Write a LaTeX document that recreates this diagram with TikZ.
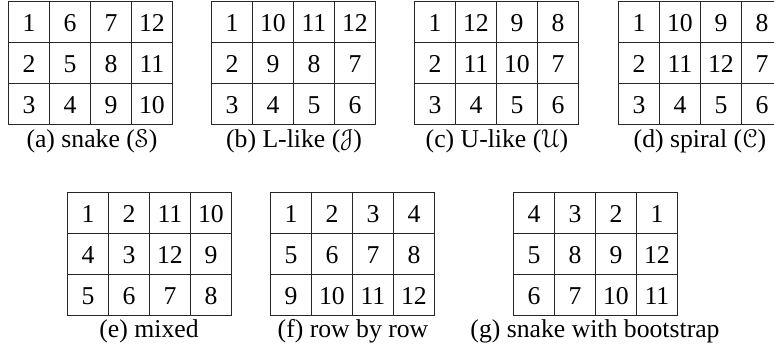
\RequirePackage{fix-cm}
\documentclass[tikz,border=0pt]{standalone}
\usepackage[mathcal]{eucal}
\usepackage{fontspec}
\setmainfont{Liberation Serif}
\tikzset{
  cell/.style={draw=black!85, line width=0.9bp, minimum width=41bp, minimum height=41bp, inner sep=0pt, anchor=north west},
  num/.style={inner sep=0pt, anchor=center},
  captext/.style={inner sep=0pt, anchor=base}
}
\newcommand\tgrid[4]{%
  \foreach \v [count=\i from 0] in {#4} {
    \pgfmathtruncatemacro\rr{div(\i,4)}
    \pgfmathtruncatemacro\cc{mod(\i,4)}
    \node[cell] (#1-\rr-\cc) at ({#2+41*\cc},{#3+41*\rr}) {};
    \node[num] (#1n-\rr-\cc) at ([yshift=-1.5bp]#1-\rr-\cc.center) {\v};
  }%
}
\begin{document}
\begin{tikzpicture}[x=1bp,y=-1bp]
\fontsize{25.8}{30}\selectfont
\useasboundingbox (0,0) rectangle (774,348);
\tgrid{a}{8}{1}{1,6,7,12,2,5,8,11,3,4,9,10}
\tgrid{b}{211}{1}{1,10,11,12,2,9,8,7,3,4,5,6}
\tgrid{c}{414}{1}{1,12,9,8,2,11,10,7,3,4,5,6}
\tgrid{d}{618}{1}{1,10,9,8,2,11,12,7,3,4,5,6}
\tgrid{e}{67}{192}{1,2,11,10,4,3,12,9,5,6,7,8}
\tgrid{f}{270}{192}{1,2,3,4,5,6,7,8,9,10,11,12}
\tgrid{g}{513}{192}{4,3,2,1,5,8,9,12,6,7,10,11}
\node[captext] (capa) at (92,147) {(a) snake ($\mathcal{S}$)};
\node[captext] (capb) at (294,147) {(b) L-like ($\mathcal{J}$)};
\node[captext] (capc) at (497,147) {(c) U-like ($\mathcal{U}$)};
\node[captext] (capd) at (700,147) {(d) spiral ($\mathcal{C}$)};
\node[captext] (cape) at (149,337) {(e) mixed};
\node[captext] (capf) at (353,337) {(f) row by row};
\node[captext] (capg) at (595,337) {(g) snake with bootstrap};
\end{tikzpicture}
\end{document}
